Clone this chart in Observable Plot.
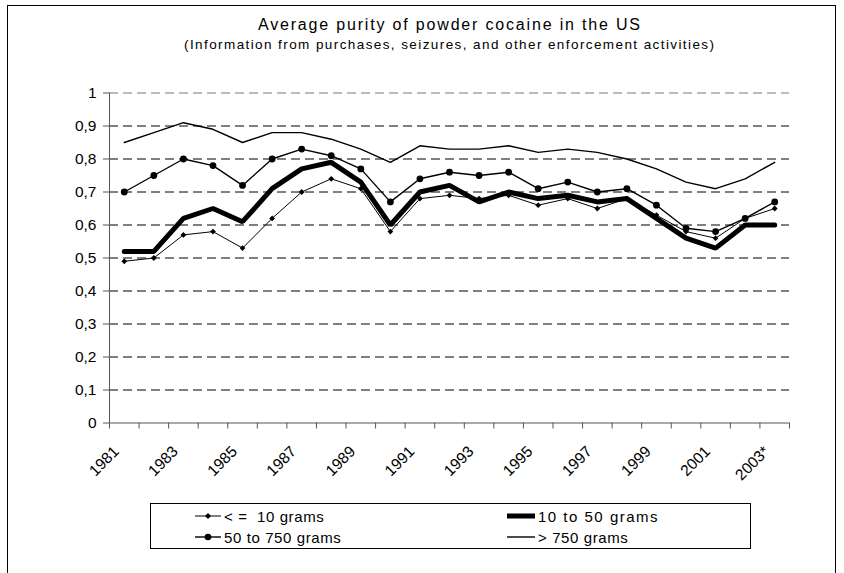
<!DOCTYPE html>
<html>
<head>
<meta charset="utf-8">
<script src="https://cdn.jsdelivr.net/npm/d3@7"></script>
<script src="https://cdn.jsdelivr.net/npm/@observablehq/plot@0.6"></script>
<style>
  html, body { margin: 0; padding: 0; background: #fff; overflow: hidden; }
  body { width: 844px; height: 573px; position: relative; font-family: "Liberation Sans", Arial, sans-serif; }
  #frame { position: absolute; left: 7px; top: 5px; width: 829px; height: 620px; border: 1px solid #000; box-sizing: border-box; }
  #chart { position: absolute; left: 0; top: 0; }
  #titles { position: absolute; left: 0; top: 0; }
  #legend { position: absolute; left: 150px; top: 503px; width: 601px; height: 46px; border: 1px solid #000; box-sizing: border-box; background: #fff; }
  .li { position: absolute; display: flex; align-items: center; font-size: 15px; letter-spacing: 0.6px; white-space: pre; color: #000; }
  .li svg { display: block; }
</style>
</head>
<body>
<div id="frame"></div>
<div id="chart"></div>
<svg id="titles" width="844" height="70">
  <text id="t1" x="449" y="30" text-anchor="middle" font-size="16" font-family="Liberation Sans, Arial, sans-serif" textLength="382" lengthAdjust="spacing">Average purity of powder cocaine in the US</text>
  <text id="t2" x="449" y="49" text-anchor="middle" font-size="13.5" font-family="Liberation Sans, Arial, sans-serif" textLength="530" lengthAdjust="spacing">(Information from purchases, seizures, and other enforcement activities)</text>
</svg>
<div id="legend"></div>
<script>
// ---- data ----
const years = ["1981","1982","1983","1984","1985","1986","1987","1988","1989","1990","1991","1992","1993","1994","1995","1996","1997","1998","1999","2000","2001","2002","2003*"];
const xTickLabels = ["1981","1983","1985","1987","1989","1991","1993","1995","1997","1999","2001","2003*"];
const seriesNames = ["< =  10 grams", "10 to 50 grams", "50 to 750 grams", "> 750 grams"];
const le10     = [0.49,0.50,0.57,0.58,0.53,0.62,0.70,0.74,0.71,0.58,0.68,0.69,0.68,0.69,0.66,0.68,0.65,0.68,0.63,0.58,0.56,0.62,0.65];
const g10to50  = [0.52,0.52,0.62,0.65,0.61,0.71,0.77,0.79,0.73,0.60,0.70,0.72,0.67,0.70,0.68,0.69,0.67,0.68,0.62,0.56,0.53,0.60,0.60];
const g50to750 = [0.70,0.75,0.80,0.78,0.72,0.80,0.83,0.81,0.77,0.67,0.74,0.76,0.75,0.76,0.71,0.73,0.70,0.71,0.66,0.59,0.58,0.62,0.67];
const gt750    = [0.85,0.88,0.91,0.89,0.85,0.88,0.88,0.86,0.83,0.79,0.84,0.83,0.83,0.84,0.82,0.83,0.82,0.80,0.77,0.73,0.71,0.74,0.79];
const yTicks = [0,0.1,0.2,0.3,0.4,0.5,0.6,0.7,0.8,0.9,1];
const gridTicks = [0.1,0.2,0.3,0.4,0.5,0.6,0.7,0.8,0.9];
const topGrid = [1];

// ---- build rows ----
const rows = arr => arr.map((v, i) => ({i, v}));
const r1 = rows(le10), r2 = rows(g10to50), r3 = rows(g50to750), r4 = rows(gt750);
const n = years.length;
const catBounds = d3.range(n + 1).map(k => k - 0.5);
const labelIdx = d3.range(0, n, 2);
const fmtY = d => String(+d.toFixed(1)).replace(".", ",");

const chart = Plot.plot({
  width: 844,
  height: 573,
  marginLeft: 109,
  marginRight: 55,
  marginTop: 92.5,
  marginBottom: 150.5,
  x: {type: "linear", domain: [-0.5, n - 0.5]},
  y: {domain: [0, 1]},
  style: {fontFamily: "'Liberation Sans', Arial, sans-serif", fontSize: "15px", color: "#000", background: "transparent", overflow: "visible"},
  marks: [
    Plot.ruleY(gridTicks, {stroke: "#000", strokeWidth: 1, strokeDasharray: "9,5"}),
    Plot.ruleY(topGrid, {stroke: "#777", strokeWidth: 1, strokeDasharray: "9,5"}),
    Plot.axisY({ticks: yTicks, tickSize: 6, tickPadding: 7, tickFormat: fmtY, label: null, stroke: "#555", fill: "#000", fontSize: 15.5, letterSpacing: 1.5}),
    Plot.axisX({ticks: catBounds, tickSize: 6, tickFormat: () => "", label: null, stroke: "#555"}),
    Plot.axisX({ticks: labelIdx, tickSize: 0, tickPadding: 10, tickRotate: -45, tickFormat: i => xTickLabels[i / 2], label: null, fill: "#000", fontSize: 15.5, dx: -8, dy: 16}),
    Plot.ruleX([-0.5], {stroke: "#555"}),
    Plot.ruleY([0], {stroke: "#555"}),
    // series in drawing order
    Plot.line(r1, {x: "i", y: "v", stroke: "#000", strokeWidth: 1}),
    Plot.dot(r1, {x: "i", y: "v", symbol: "diamond2", r: 2.6, fill: "#000", stroke: "none"}),
    Plot.line(r2, {x: "i", y: "v", stroke: "#000", strokeWidth: 5, strokeLinejoin: "miter"}),
    Plot.line(r3, {x: "i", y: "v", stroke: "#000", strokeWidth: 1.4}),
    Plot.dot(r3, {x: "i", y: "v", r: 3.4, fill: "#000", stroke: "none"}),
    Plot.line(r4, {x: "i", y: "v", stroke: "#000", strokeWidth: 1.4})
  ]
});
document.getElementById("chart").appendChild(chart);

// ---- legend ----
const legend = document.getElementById("legend");
const items = [
  {name: seriesNames[0], x: 44, y: 12, w: 26, sw: 1, marker: "diamond", ls: 0.6},
  {name: seriesNames[1], x: 356, y: 12, w: 28, sw: 5, marker: null, ls: 1.5},
  {name: seriesNames[2], x: 44, y: 33, w: 26, sw: 1.4, marker: "circle", ls: 0.6},
  {name: seriesNames[3], x: 356, y: 33, w: 28, sw: 1.4, marker: null, ls: 0.6}
];
for (const it of items) {
  const div = document.createElement("div");
  div.className = "li";
  div.style.left = it.x + "px";
  div.style.top = (it.y - 10) + "px";
  div.style.height = "20px";
  div.style.letterSpacing = it.ls + "px";
  const svg = d3.create("svg").attr("width", it.w + 1).attr("height", 20);
  svg.append("line").attr("x1", 0).attr("x2", it.w).attr("y1", 10).attr("y2", 10).attr("stroke", "#000").attr("stroke-width", it.sw);
  if (it.marker === "diamond") svg.append("path").attr("d", `M${it.w/2},7 L${it.w/2+3},10 L${it.w/2},13 L${it.w/2-3},10Z`).attr("fill", "#000");
  if (it.marker === "circle") svg.append("circle").attr("cx", it.w/2).attr("cy", 10).attr("r", 3.3).attr("fill", "#000");
  div.appendChild(svg.node());
  const span = document.createElement("span");
  span.textContent = it.name;
  span.style.marginLeft = "2px";
  div.appendChild(span);
  legend.appendChild(div);
}
</script>
</body>
</html>
